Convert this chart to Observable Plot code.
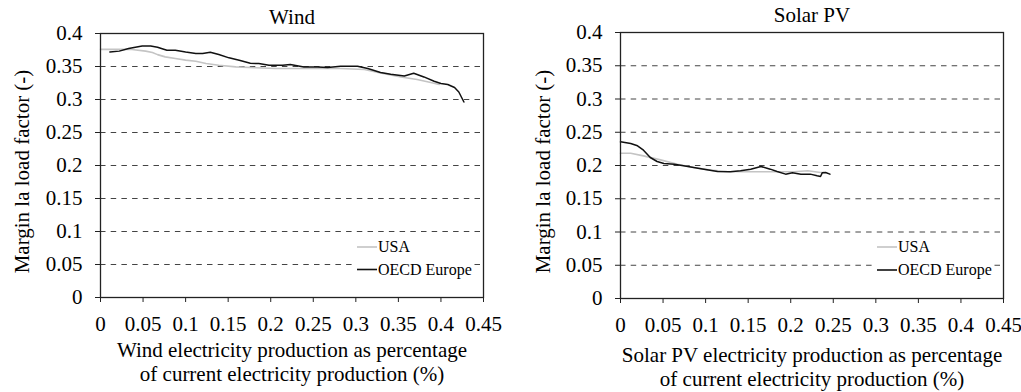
<!DOCTYPE html>
<html>
<head>
<meta charset="utf-8">
<script src="https://cdn.jsdelivr.net/npm/d3@7"></script>
<script src="https://cdn.jsdelivr.net/npm/@observablehq/plot@0.6"></script>
<style>
  html, body { margin: 0; padding: 0; background: #fff; }
  #wrap { position: relative; width: 1021px; height: 392px; overflow: hidden; }
  .panel { position: absolute; top: 0; }
  .panel svg, .panel svg text { font-family: "Liberation Serif", "Times New Roman", serif !important; }
</style>
</head>
<body>
<div id="wrap">
  <div id="left" class="panel" style="left:0px"></div>
  <div id="right" class="panel" style="left:510px"></div>
</div>
<script>
// ---- Data ----
const xTicks = [0, 0.05, 0.1, 0.15, 0.2, 0.25, 0.3, 0.35, 0.4, 0.45];
const yTicks = [0, 0.05, 0.1, 0.15, 0.2, 0.25, 0.3, 0.35, 0.4];
const gridValues = [0.05, 0.1, 0.15, 0.2, 0.25, 0.3, 0.35];
const seriesNames = ["USA", "OECD Europe"];

const windUsaX = [0.000, 0.026, 0.037, 0.053, 0.061, 0.067, 0.076, 0.088, 0.100, 0.112, 0.124, 0.139, 0.159, 0.182, 0.206, 0.229, 0.247, 0.282, 0.310, 0.329, 0.353, 0.372, 0.388, 0.398];
const windUsaY = [0.376, 0.376, 0.3758, 0.3733, 0.3712, 0.368, 0.3646, 0.362, 0.3596, 0.358, 0.3545, 0.352, 0.3495, 0.348, 0.347, 0.347, 0.347, 0.347, 0.3454, 0.3403, 0.3342, 0.3302, 0.3257, 0.3227];

const windEuX = [0.011, 0.022, 0.033, 0.049, 0.059, 0.067, 0.078, 0.088, 0.100, 0.112, 0.120, 0.129, 0.139, 0.151, 0.163, 0.176, 0.186, 0.198, 0.214, 0.223, 0.239, 0.255, 0.267, 0.282, 0.302, 0.314, 0.329, 0.341, 0.357, 0.368, 0.380, 0.392, 0.400, 0.408, 0.416, 0.421, 0.424, 0.427];
const windEuY = [0.372, 0.3733, 0.3773, 0.381, 0.381, 0.3793, 0.3747, 0.3747, 0.372, 0.3697, 0.3697, 0.3717, 0.3682, 0.3631, 0.3596, 0.3549, 0.3544, 0.352, 0.352, 0.353, 0.3494, 0.3494, 0.3484, 0.3504, 0.3504, 0.347, 0.3409, 0.3383, 0.3357, 0.3398, 0.3342, 0.3277, 0.3242, 0.3227, 0.3181, 0.3114, 0.3038, 0.2962];

const solarUsaX = [0.000, 0.012, 0.027, 0.047, 0.067, 0.086, 0.106, 0.125, 0.145, 0.165, 0.184, 0.204, 0.220, 0.235, 0.239];
const solarUsaY = [0.2185, 0.2185, 0.2145, 0.2085, 0.202, 0.197, 0.193, 0.191, 0.1905, 0.1905, 0.1905, 0.1905, 0.192, 0.1895, 0.1895];

const solarEuX = [0.000, 0.012, 0.020, 0.027, 0.035, 0.043, 0.051, 0.063, 0.074, 0.086, 0.098, 0.114, 0.129, 0.141, 0.153, 0.165, 0.176, 0.184, 0.194, 0.202, 0.212, 0.223, 0.231, 0.235, 0.237, 0.241, 0.246];
const solarEuY = [0.2356, 0.233, 0.2296, 0.223, 0.212, 0.206, 0.203, 0.202, 0.1995, 0.197, 0.1945, 0.191, 0.1905, 0.192, 0.1945, 0.1985, 0.1945, 0.191, 0.187, 0.189, 0.187, 0.187, 0.1845, 0.1835, 0.189, 0.1895, 0.187];

const FONT = '"Liberation Serif", "Times New Roman", serif';
const fmt = d => String(+d.toFixed(2));
const toRows = (xs, ys) => xs.map((x, i) => ({x, y: ys[i]}));

function makePanel(el, cfg) {
  const usa = toRows(cfg.usaX, cfg.usaY);
  const eu = toRows(cfg.euX, cfg.euY);
  const chart = Plot.plot({
    width: cfg.width,
    height: 392,
    marginLeft: cfg.ml,
    marginRight: cfg.mr,
    marginTop: cfg.mt,
    marginBottom: cfg.mb,
    style: {fontFamily: FONT, fontSize: "21px", background: "#fff", color: "#000"},
    x: {domain: [0, 0.45]},
    y: {domain: [0, 0.4]},
    marks: [
      Plot.ruleY(gridValues, {stroke: "#444", strokeWidth: 1, strokeDasharray: "5.5,5.2"}),
      Plot.line(usa, {x: "x", y: "y", stroke: "#c4c4c4", strokeWidth: 1.6}),
      Plot.line(eu, {x: "x", y: "y", stroke: "#111", strokeWidth: 1.5}),
      Plot.frame({stroke: "#222", strokeWidth: 1.3}),
      Plot.axisX({ticks: xTicks, tickFormat: fmt, tickSize: 5, tickPadding: 14, label: null, fontSize: 21, fontFamily: FONT, stroke: "#222"}),
      Plot.axisY({ticks: yTicks, tickFormat: fmt, tickSize: 5, tickPadding: 13, label: null, fontSize: 21, fontFamily: FONT, stroke: "#222"}),
      Plot.text([cfg.title], {frameAnchor: "top", dy: cfg.titleDy, lineAnchor: "middle", fontSize: 21, fontFamily: FONT, fill: "#000"}),
      Plot.text([cfg.ylabel], {frameAnchor: "left", rotate: -90, dx: cfg.ylabelDx, dy: 6, textAnchor: "middle", lineAnchor: "middle", fontSize: 21, fontFamily: FONT, fill: "#000"}),
      Plot.text([cfg.xlabel], {frameAnchor: "bottom", dy: cfg.xlabelDy, lineAnchor: "middle", lineHeight: 1.16, fontSize: 21, fontFamily: FONT, fill: "#000"})
    ]
  });
  el.appendChild(chart);

  // Legend, anchored to the bottom-right corner of the frame
  const svg = d3.select(chart);
  const right = cfg.width - cfg.mr;
  const bottom = 392 - cfg.mb;
  const g = svg.append("g")
    .attr("font-family", FONT)
    .attr("font-size", 16)
    .attr("text-anchor", "start");
  const bg = g.append("rect").attr("fill", "#fff");
  const colors = ["#c4c4c4", "#111"];
  const offsets = [cfg.legY0, cfg.legY1];
  let maxEnd = 0;
  seriesNames.forEach((name, i) => {
    const yy = bottom + offsets[i];
    g.append("line")
      .attr("x1", right - 126).attr("x2", right - 106)
      .attr("y1", yy).attr("y2", yy)
      .attr("stroke", colors[i]).attr("stroke-width", 1.6);
    const t = g.append("text")
      .attr("x", right - 105).attr("y", yy).attr("dy", "0.34em")
      .attr("text-anchor", "start")
      .attr("fill", "#000").text(name);
    const bb = t.node().getBBox();
    maxEnd = Math.max(maxEnd, bb.x + bb.width);
  });
  bg.attr("x", right - 127).attr("y", bottom + offsets[0] - 10)
    .attr("width", maxEnd + 2 - (right - 127))
    .attr("height", offsets[1] - offsets[0] + 20);
}

makePanel(document.getElementById("left"), {
  width: 510, ml: 100, mr: 27, mt: 33, mb: 95,
  title: "Wind", titleDy: -16, ylabelDx: -78, xlabelDy: 64,
  ylabel: "Margin la load factor (-)",
  xlabel: "Wind electricity production as percentage\nof current electricity production (%)",
  usaX: windUsaX, usaY: windUsaY, euX: windEuX, euY: windEuY,
  legY0: -50, legY1: -27.5
});

makePanel(document.getElementById("right"), {
  width: 511, ml: 110, mr: 18, mt: 32, mb: 94,
  title: "Solar PV", titleDy: -17, ylabelDx: -77, xlabelDy: 68,
  ylabel: "Margin la load factor (-)",
  xlabel: "Solar PV electricity production as percentage\nof current electricity production (%)",
  usaX: solarUsaX, usaY: solarUsaY, euX: solarEuX, euY: solarEuY,
  legY0: -51, legY1: -28
});
</script>
</body>
</html>
